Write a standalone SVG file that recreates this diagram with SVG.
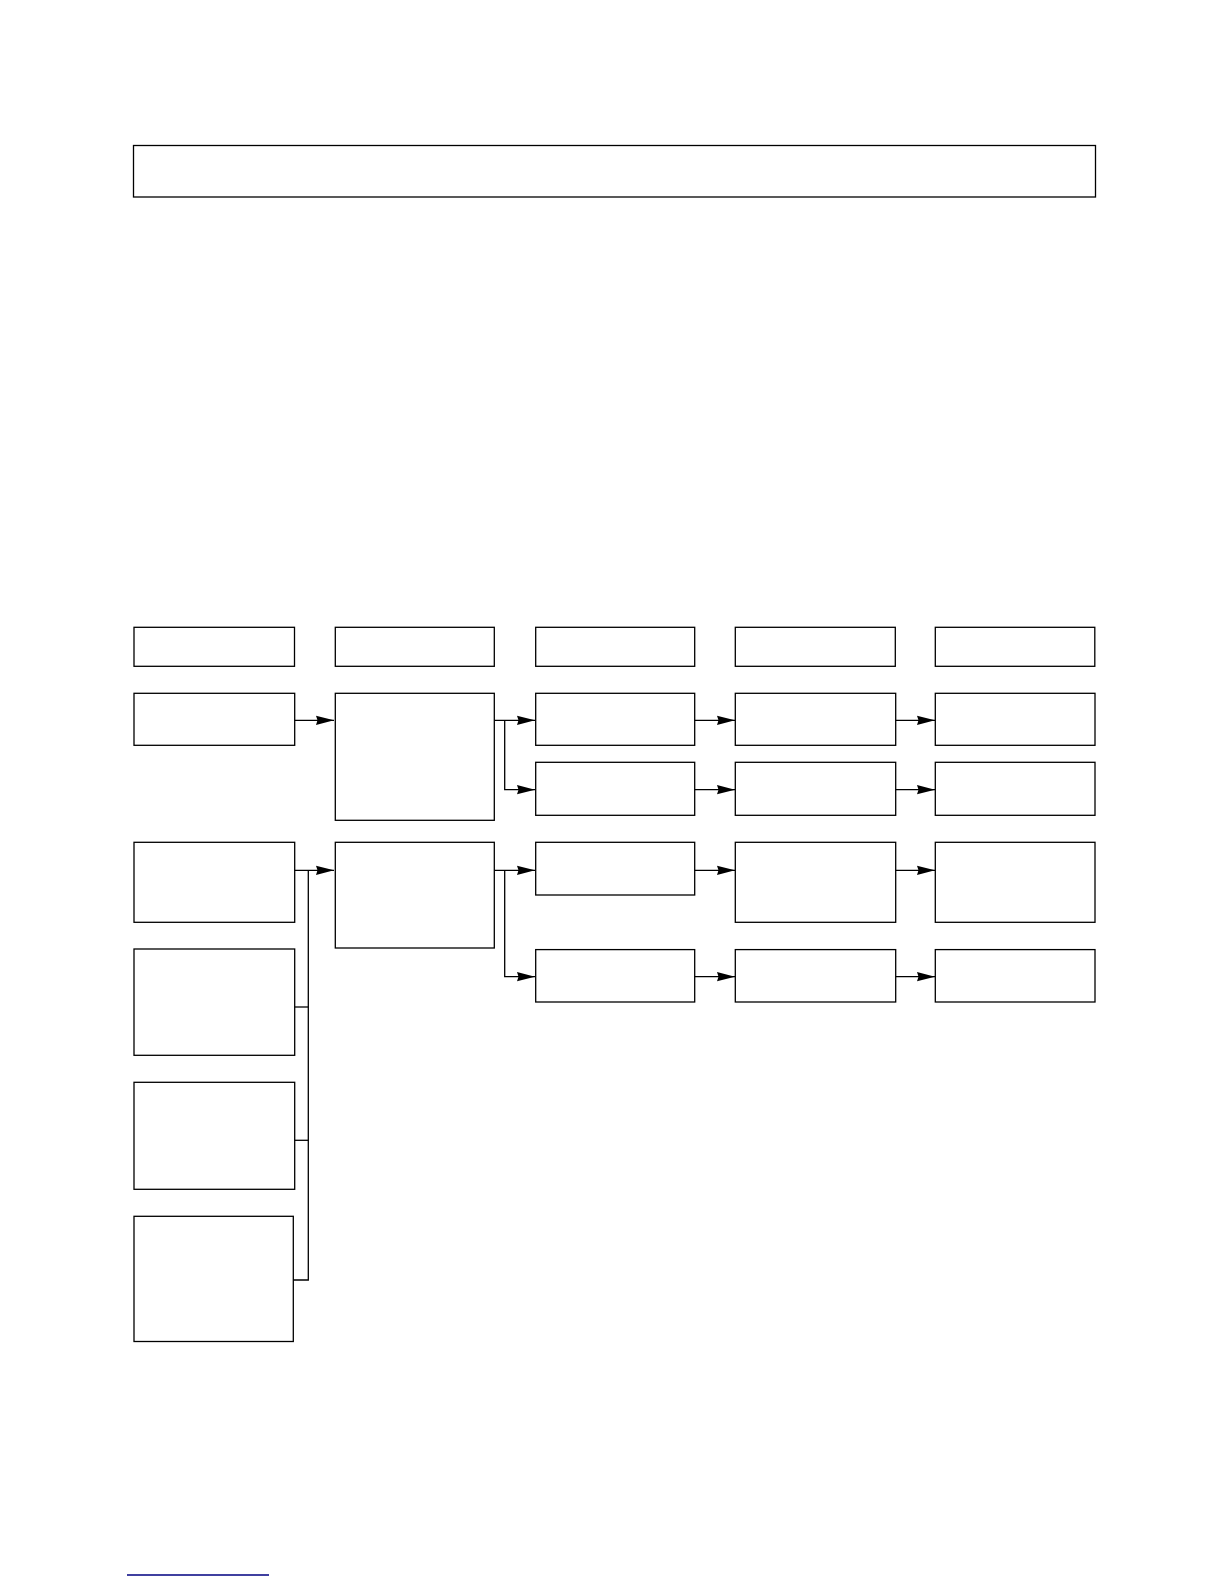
<svg xmlns="http://www.w3.org/2000/svg" width="1224" height="1584" viewBox="0 0 1224 1584">
<style>
.n{fill:#fff;stroke:#000;stroke-width:1.3}
.c{fill:none;stroke:#000;stroke-width:1.3}
</style>
<defs>
<marker id="ah" markerUnits="userSpaceOnUse" markerWidth="18" markerHeight="10" viewBox="0 0 18 10" refX="18" refY="5" orient="auto">
<path d="M0,0.4 L18,5 L0,9.6 L1.5,5 z" fill="#000"/>
</marker>
</defs>
<rect width="1224" height="1584" fill="#fff"/>
<g id="title"><rect class="n" x="133.5" y="145.5" width="962" height="51.5"/></g>
<g id="header">
<rect id="h1" class="n" x="134" y="627.3" width="160.5" height="39"/>
<rect id="h2" class="n" x="335.3" y="627.3" width="159" height="39"/>
<rect id="h3" class="n" x="535.7" y="627.3" width="159" height="39"/>
<rect id="h4" class="n" x="735.3" y="627.3" width="160" height="39"/>
<rect id="h5" class="n" x="935.3" y="627.3" width="159.5" height="39"/>
</g>
<g id="n_r1c1"><rect class="n" x="134" y="693.3" width="160.7" height="52"/></g>
<g id="n_r1c2"><rect class="n" x="335.3" y="693.3" width="159" height="127"/></g>
<g id="n_r1c3"><rect class="n" x="535.7" y="693.3" width="159" height="52"/></g>
<g id="n_r1c4"><rect class="n" x="735.3" y="693.3" width="160.4" height="52"/></g>
<g id="n_r1c5"><rect class="n" x="935.3" y="693.3" width="159.7" height="52"/></g>
<g id="n_r2c3"><rect class="n" x="535.7" y="762.3" width="159" height="53"/></g>
<g id="n_r2c4"><rect class="n" x="735.3" y="762.3" width="160.4" height="53"/></g>
<g id="n_r2c5"><rect class="n" x="935.3" y="762.3" width="159.7" height="53"/></g>
<g id="n_r3c1"><rect class="n" x="134" y="842.3" width="160.7" height="80"/></g>
<g id="n_r3c2"><rect class="n" x="335.3" y="842.3" width="159" height="105.7"/></g>
<g id="n_r3c3"><rect class="n" x="535.7" y="842.3" width="159" height="52.7"/></g>
<g id="n_r3c4"><rect class="n" x="735.3" y="842.3" width="160.4" height="80"/></g>
<g id="n_r3c5"><rect class="n" x="935.3" y="842.3" width="159.7" height="80"/></g>
<g id="n_r4c3"><rect class="n" x="535.7" y="949.6" width="159" height="52.4"/></g>
<g id="n_r4c4"><rect class="n" x="735.3" y="949.6" width="160.4" height="52.4"/></g>
<g id="n_r4c5"><rect class="n" x="935.3" y="949.6" width="159.7" height="52.4"/></g>
<g id="n_l3"><rect class="n" x="134" y="949" width="160.7" height="106.3"/></g>
<g id="n_l4"><rect class="n" x="134" y="1082.3" width="160.7" height="107"/></g>
<g id="n_l5"><rect class="n" x="134" y="1216.3" width="159.3" height="125.2"/></g>
<g id="connectors">
<path class="c" d="M294.7,720.3 H334" marker-end="url(#ah)"/>
<path class="c" d="M494.3,720.3 H535" marker-end="url(#ah)"/>
<path class="c" d="M504.7,720.3 V789.7 H535" marker-end="url(#ah)"/>
<path class="c" d="M694.7,720.3 H735" marker-end="url(#ah)"/>
<path class="c" d="M895.7,720.3 H935" marker-end="url(#ah)"/>
<path class="c" d="M694.7,789.7 H735" marker-end="url(#ah)"/>
<path class="c" d="M895.7,789.7 H935" marker-end="url(#ah)"/>
<path class="c" d="M294.7,870.3 H334" marker-end="url(#ah)"/>
<path class="c" d="M308.3,870.3 V1280 H293.3"/>
<path class="c" d="M294.7,1007 H308.3"/>
<path class="c" d="M294.7,1140.3 H308.3"/>
<path class="c" d="M494.3,870.3 H535" marker-end="url(#ah)"/>
<path class="c" d="M504.7,870.3 V976.7 H535" marker-end="url(#ah)"/>
<path class="c" d="M694.7,870.3 H735" marker-end="url(#ah)"/>
<path class="c" d="M895.7,870.3 H935" marker-end="url(#ah)"/>
<path class="c" d="M694.7,976.7 H735" marker-end="url(#ah)"/>
<path class="c" d="M895.7,976.7 H935" marker-end="url(#ah)"/>
</g>
<line x1="127" y1="1575" x2="269" y2="1575" stroke="#000080" stroke-width="1.5"/>
</svg>
